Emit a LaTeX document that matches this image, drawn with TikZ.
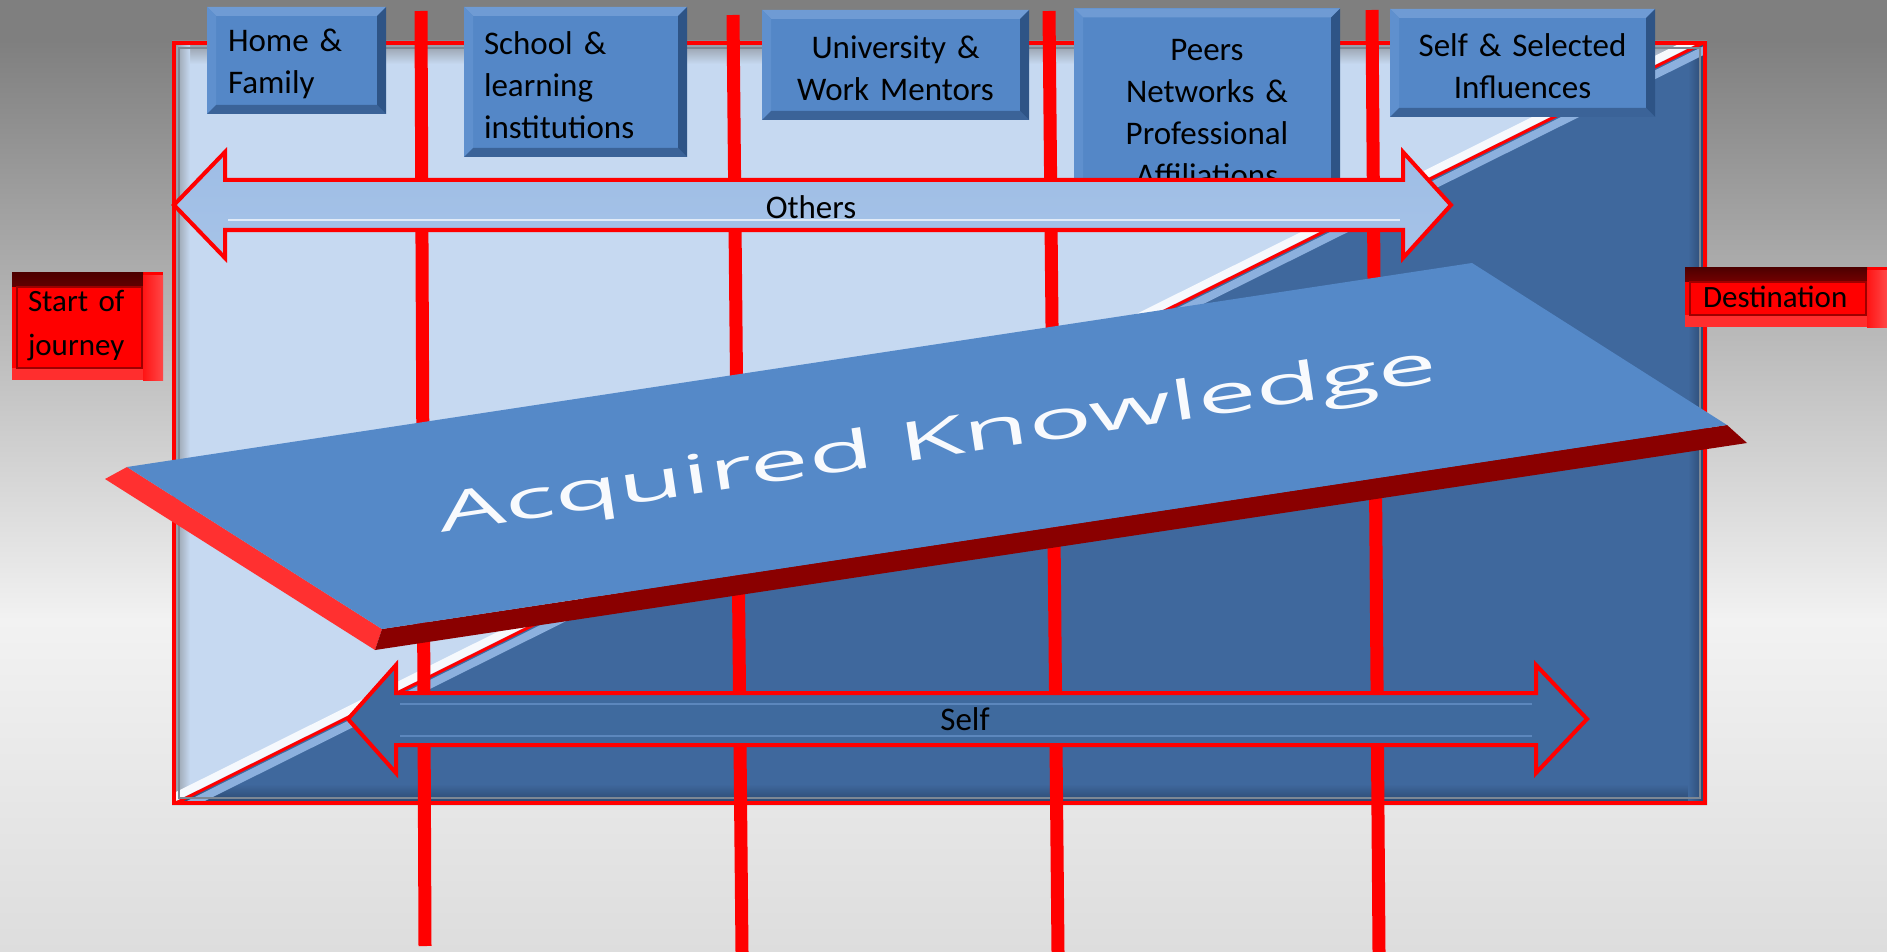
\documentclass[tikz,border=0pt]{standalone}
\usepackage{fontspec}
\newfontfamily\carl{Carlito}
\newfontfamily\opens{Open Sans}
\usetikzlibrary{calc}
\definecolor{bgtop}{HTML}{7F7F7F}
\definecolor{bglight}{HTML}{F2F2F2}
\definecolor{bgbot}{HTML}{DDDDDD}
\definecolor{lightreg}{HTML}{C6D9F1}
\definecolor{darkreg}{HTML}{3F689D}
\definecolor{darkedge}{HTML}{2C4A73}
\definecolor{framegray}{HTML}{7D8794}
\definecolor{boxblue}{HTML}{5487C7}
\definecolor{boxtop}{HTML}{6F9BD4}
\definecolor{boxleft}{HTML}{5F90CE}
\definecolor{boxbottom}{HTML}{3B6398}
\definecolor{boxright}{HTML}{2E5486}
\definecolor{linered}{HTML}{FF0000}
\definecolor{slabtop}{HTML}{5589C8}
\definecolor{slableft}{HTML}{FF3030}
\definecolor{slabfront}{HTML}{8A0000}
\definecolor{diagblue}{HTML}{8CB0DE}
\definecolor{othtop}{HTML}{9EBDE5}
\definecolor{othmid}{HTML}{D0E1F5}
\definecolor{othbot}{HTML}{A6C3E8}
\definecolor{selffill}{HTML}{3F6A9E}
\definecolor{selfstripe}{HTML}{5C87BD}
\tikzset{
  redline/.style={linered, line width=13pt},
  topbox/.style={fill=boxblue, inner ysep=0pt, outer sep=0pt, text=black,
    font=\carl\fontsize{33}{42}\selectfont,
    path picture={
      \fill[boxtop] (path picture bounding box.north west) -- (path picture bounding box.north east) -- ([shift={(-9pt,-9pt)}]path picture bounding box.north east) -- ([shift={(9pt,-9pt)}]path picture bounding box.north west) -- cycle;
      \fill[boxleft] (path picture bounding box.north west) -- ([shift={(9pt,-9pt)}]path picture bounding box.north west) -- ([shift={(9pt,9pt)}]path picture bounding box.south west) -- (path picture bounding box.south west) -- cycle;
      \fill[boxbottom] (path picture bounding box.south west) -- ([shift={(9pt,9pt)}]path picture bounding box.south west) -- ([shift={(-9pt,9pt)}]path picture bounding box.south east) -- (path picture bounding box.south east) -- cycle;
      \fill[boxright] (path picture bounding box.south east) -- ([shift={(-9pt,9pt)}]path picture bounding box.south east) -- ([shift={(-9pt,-9pt)}]path picture bounding box.north east) -- (path picture bounding box.north east) -- cycle;
    }},
  redbox/.style={fill=red, inner ysep=0pt, outer sep=0pt, text=black, align=left,
    font=\carl\fontsize{31}{44}\selectfont,
    path picture={
      \shade[top color=black!70!red, bottom color=red!92!black] (path picture bounding box.north west) -- ([shift={(-20pt,0pt)}]path picture bounding box.north east) -- ([shift={(-20pt,-14pt)}]path picture bounding box.north east) -- ([shift={(0pt,-14pt)}]path picture bounding box.north west) -- cycle;
      \fill[red!82!white] ([shift={(0pt,12pt)}]path picture bounding box.south west) rectangle (path picture bounding box.south east);
      \shade[left color=red!92!white, right color=red!72!white] ([shift={(-20pt,-3pt)}]path picture bounding box.north east) rectangle (path picture bounding box.south east);
      \draw[red!62!black, line width=1.2pt] ([shift={(5pt,-15pt)}]path picture bounding box.north west) rectangle ([shift={(-21pt,12pt)}]path picture bounding box.south east);
    }},
  arrowtxt/.style={font=\carl\fontsize{33}{40}\selectfont, text=black, inner sep=0pt},
}
\begin{document}
\begin{tikzpicture}[x=1pt,y=-1pt]
\useasboundingbox (0,0) rectangle (1887,952);
% background
\fill[bgtop] (0,0) rectangle (1887,41);
\shade[top color=bgtop, bottom color=bglight] (0,40) rectangle (1887,620);
\shade[top color=bglight, bottom color=bgbot] (0,619) rectangle (1887,952);

% frame
\coordinate (ftl) at (172,41);
\coordinate (ftr) at (1707,41);
\coordinate (fbr) at (1707,805);
\coordinate (fbl) at (172,805);
\fill[lightreg] (ftl) -- (ftr) -- (fbl) -- cycle;
\fill[darkreg] (ftr) -- (fbr) -- (fbl) -- cycle;
\begin{scope}
  \clip (ftl) -- (ftr) -- (fbl) -- cycle;
  \shade[top color=framegray!80, bottom color=lightreg] (176,45) rectangle (1703,64);
  \shade[left color=framegray!80, right color=lightreg] (176,45) rectangle (190,801);
\end{scope}
\begin{scope}
  \clip (ftr) -- (fbr) -- (fbl) -- cycle;
  \shade[top color=darkreg, bottom color=darkedge] (176,784) rectangle (1703,801);
  \shade[left color=darkreg, right color=darkedge] (1688,45) rectangle (1703,801);
\end{scope}
\begin{scope}
  \clip (176,45) rectangle (1703,801);
  \draw[white!85!lightreg, line width=8pt] (133.6,817.5) -- (1740.2,17.9);
  \draw[diagblue, line width=8pt] (139.3,829.1) -- (1745.9,29.5);
  \draw[linered, line width=3pt] (136.2,822.8) -- (1742.8,23.2);
\end{scope}
\draw[linered, line width=4pt] (174,43) rectangle (1705,803);
\draw[framegray, line width=1.5pt] (179,48) rectangle (1700,798);

% vertical red lines
\coordinate (l1t) at (421,11);  \coordinate (l1b) at (425,946);
\coordinate (l2t) at (733,15);  \coordinate (l2b) at (742,952);
\coordinate (l3t) at (1049,11); \coordinate (l3b) at (1058,952);
\coordinate (l4t) at (1372,10); \coordinate (l4b) at (1379,952);
\draw[redline] (l1t) -- (l1b);
\draw[redline] (l2t) -- (l2b);
\draw[redline] (l3t) -- (l3b);
\draw[redline] (l4t) -- (l4b);

% top boxes
\node[topbox, text width=137pt, inner xsep=21pt, align=left, minimum height=107pt] (home) at (296.5,60.5) {\rule{0pt}{30pt}Home \&\\Family};
\node[topbox, text width=183pt, inner xsep=20pt, align=left, minimum height=150pt] (school) at (575.5,82) {\rule{0pt}{30pt}School \&\\learning\\institutions};
\node[topbox, text width=247pt, inner xsep=10pt, align=center, minimum height=110pt] (univ) at (895.5,65) {\rule{0pt}{30pt}University \&\\Work Mentors};
\node[topbox, text width=246pt, inner xsep=10pt, align=center, minimum height=193pt] (peers) at (1207,105) {\rule{0pt}{38pt}Peers\\Networks \&\\Professional\\Affiliations};
\node[topbox, text width=245pt, inner xsep=10pt, align=center, minimum height=108pt] (selfinf) at (1522.5,63) {\rule{0pt}{30pt}Self \& Selected\\Influences};

% Others arrow
\shade[top color=othtop, middle color=othmid, bottom color=othbot]
  (174,205) -- (225,152) -- (225,180) -- (1403,180) -- (1403,152) -- (1451,205)
  -- (1403,258) -- (1403,230) -- (225,230) -- (225,258) -- cycle;
\draw[white!70!othtop, line width=2pt] (228,220) -- (1400,220);
\draw[linered, line width=4pt, line join=miter]
  (174,205) -- (225,152) -- (225,180) -- (1403,180) -- (1403,152) -- (1451,205)
  -- (1403,258) -- (1403,230) -- (225,230) -- (225,258) -- cycle;
\node[arrowtxt] (others) at (811,207) {Others};

% Self arrow
\fill[selffill]
  (348,719) -- (396,665) -- (396,693) -- (1536,693) -- (1536,665) -- (1587,719)
  -- (1536,773) -- (1536,745) -- (396,745) -- (396,773) -- cycle;
\draw[selfstripe, line width=2pt] (400,703.5) -- (1532,703.5);
\draw[selfstripe, line width=2pt] (400,736) -- (1532,736);
\draw[linered, line width=4pt, line join=miter]
  (348,719) -- (396,665) -- (396,693) -- (1536,693) -- (1536,665) -- (1587,719)
  -- (1536,773) -- (1536,745) -- (396,745) -- (396,773) -- cycle;
\node[arrowtxt] (self) at (965,719) {Self};

% Acquired Knowledge slab
\coordinate (sA) at (127,467);
\coordinate (sB) at (1472,263);
\coordinate (sC) at (1727,425);
\coordinate (sD) at (382,629);
\coordinate (sA2) at (105,479);
\coordinate (sC2) at (1747,443);
\coordinate (sD2) at (375,650);
\fill[slableft] (sA2) -- (sA) -- (sD) -- (sD2) -- cycle;
\fill[slabfront] (sD) -- (sC) -- (sC2) -- (sD2) -- cycle;
\fill[slabtop] (sA) -- (sB) -- (sC) -- (sD) -- cycle;
\node[text=white!96!slabtop, rotate=8.6, anchor=base, inner sep=0pt, font=\opens\fontsize{54}{60}\selectfont] (ak) at (940,457) {\scalebox{1.96}[1]{Acquired Knowledge}};

% side boxes
\node[redbox, text width=119pt, inner xsep=16pt, minimum height=108pt] (start) at (87.5,326) {Start of\\journey};
\node[redbox, text width=166pt, inner xsep=18pt, minimum height=60pt] (dest) at (1786,297) {Destination};
\end{tikzpicture}
\end{document}
